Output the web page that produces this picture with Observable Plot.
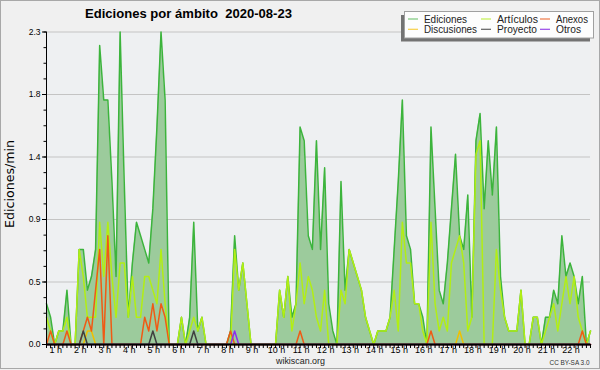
<!DOCTYPE html>
<html><head><meta charset="utf-8">
<script src="https://cdn.jsdelivr.net/npm/d3@7"></script>
<script src="https://cdn.jsdelivr.net/npm/@observablehq/plot@0.6"></script>
<style>
body{margin:0;background:#f0f0f0;}
#chart{position:relative;width:600px;height:370px;}
</style></head><body><div id="chart"></div>
<script>
// edits per minute, one value per 10-minute slot, first slot 00:40
const ediciones = [
0.3,0.2,0,0.1,0.1,0.4,0,0,0.7,0.7,
0.4,0.5,0.7,2.2,1.8,1.8,1.2,0.5,2.3,1.2,
0.2,0.6,0.9,0.8,0.7,0.6,1.0,1.6,2.3,1.8,
0,0,0,0.2,0,0.2,0.9,0.1,0.2,0,
0,0,0,0,0,0.1,0.8,0.4,0.6,0.3,
0,0,0,0,0,0,0,0.4,0.2,0.5,
0.2,0.3,1.6,1.5,0.8,0.7,1.5,0.7,1.3,0.3,
0.1,0,1.2,0.4,0.7,0.6,0.5,0.4,0.2,0.1,
0,0.1,0.1,0.1,0.2,0.7,1.2,1.8,0.8,0.7,
0.3,0.3,0.2,0,1.6,1.0,0.4,0.3,0.6,1.0,
1.4,0.8,0.7,1.1,0.2,1.5,1.7,1.0,1.5,1.1,
1.6,0.5,0.2,0.1,0.1,0.1,0.4,0,0,0.2,
0.2,0,0.2,0.2,0.4,0.3,0.8,0.5,0.6,0.5,
0.3,0.5,0,0.1];
const articulos = [
0.2,0.1,0,0.1,0.1,0.2,0,0,0.7,0.5,
0.2,0.2,0.2,0.9,0.5,0.9,0.5,0.2,0.6,0.6,
0.2,0.5,0.2,0.2,0.5,0.5,0.4,0.3,0.7,0.3,
0,0,0,0.2,0,0.1,0.2,0.1,0.2,0,
0,0,0,0,0,0,0.7,0.4,0.6,0.3,
0,0,0,0,0,0,0,0.4,0.2,0.5,
0.1,0.3,0.6,0.3,0.5,0.4,0.2,0.1,0.4,0,
0,0,0.4,0.3,0.7,0.6,0.5,0.4,0.2,0.1,
0,0.1,0.1,0.1,0.2,0.4,0.1,0.9,0.6,0.6,
0.3,0.3,0.1,0,0.9,0.3,0.1,0.2,0.1,0.6,
0.7,0.8,0.6,0.1,0.2,1.4,1.5,0,0,0,
0.7,0.4,0.2,0.1,0.1,0.1,0.4,0,0,0.2,
0.2,0,0.1,0.2,0.3,0.1,0.3,0.5,0.3,0.5,
0.2,0.1,0,0.1];
const anexos = [
0,0.1,0,0,0,0.1,0,0,0,0.1,
0.2,0.1,0.4,0.7,0,0.8,0,0,0,0,
0,0,0,0,0.2,0.1,0.3,0.1,0.3,0.2,
0,0,0,0,0,0,0,0,0,0,
0,0,0,0,0,0.1,0,0,0,0,
0,0,0,0,0,0,0,0,0,0,
0,0,0.1,0,0,0,0,0,0,0,
0,0,0,0,0,0,0,0,0,0,
0,0,0,0,0,0,0,0,0,0,
0,0,0,0,0.1,0,0,0,0,0,
0,0,0,0,0,0,0,0,0,0,
0,0,0,0,0,0,0,0,0,0,
0,0,0,0,0,0,0,0,0,0,
0,0.1,0,0];
const discusiones = [
0,0,0,0,0,0,0,0,0,0,
0.1,0.1,0,0,0,0,0,0,0,0,
0,0,0,0,0,0,0,0,0,0,
0,0,0,0,0,0,0,0,0,0,
0,0,0,0,0,0,0,0,0,0,
0,0,0,0,0,0,0,0,0,0,
0,0,0,0,0,0,0,0,0,0,
0,0,0,0,0,0,0,0,0,0,
0,0,0,0,0,0,0,0,0,0,
0,0,0,0,0,0,0,0,0,0,
0,0.1,0,0,0,0,0,0,0,0,
0,0,0,0,0,0,0,0,0,0,
0,0,0,0,0,0,0,0,0,0,
0,0,0,0];
const proyecto = [
0,0,0,0,0,0,0,0,0,0.1,
0,0,0,0,0,0,0,0,0,0,
0,0,0,0,0,0,0.1,0,0,0,
0,0,0,0,0,0,0.1,0,0,0,
0,0,0,0,0,0,0,0,0,0,
0,0,0,0,0,0,0,0,0,0,
0,0,0,0,0,0,0,0,0,0,
0,0,0,0,0,0,0,0,0,0,
0,0,0,0,0,0,0,0,0,0,
0,0,0,0,0,0,0,0,0,0,
0,0,0,0,0,0,0,0,0,0,
0,0,0,0,0,0,0,0,0,0,
0,0,0,0,0,0,0,0,0,0,
0,0,0,0];
const otros = [
0,0,0,0,0,0,0,0,0,0,
0,0,0,0,0,0,0,0,0,0,
0,0,0,0,0,0,0,0,0,0,
0,0,0,0,0,0,0,0,0,0,
0,0,0,0,0,0,0.1,0,0,0,
0,0,0,0,0,0,0,0,0,0,
0,0,0,0,0,0,0,0,0,0,
0,0,0,0,0,0,0,0,0,0,
0,0,0,0,0,0,0,0,0,0,
0,0,0,0,0,0,0,0,0,0,
0,0,0,0,0,0,0,0,0,0,
0,0,0,0,0,0,0,0,0,0,
0,0,0,0,0,0,0,0,0,0,
0,0,0,0];

const firstSlotMinute = 40, slotMinutes = 10;
const hourTicks = [1,2,3,4,5,6,7,8,9,10,11,12,13,14,15,16,17,18,19,20,21,22];
const yTicks = [0, 0.46, 0.92, 1.38, 1.84, 2.3];
const yMax = 2.3;
const title = "Ediciones por ámbito  2020-08-23";
const yLabel = "Ediciones/min";

const series = [
  {name:"Ediciones",   values: ediciones,   color:"#3cb43c", legend:"#7cc87c"},
  {name:"Artículos",   values: articulos,   color:"#b2ee14", legend:"#c4f050"},
  {name:"Discusiones", values: discusiones, color:"#f0c000", legend:"#f8d048"},
  {name:"Anexos",      values: anexos,      color:"#f05a14", legend:"#f07a48"},
  {name:"Proyecto",    values: proyecto,    color:"#404040", legend:"#606060"},
  {name:"Otros",       values: otros,       color:"#8a30f0", legend:"#9848e8"}
];

const times = ediciones.map((_, i) => (firstSlotMinute + i * slotMinutes) / 60);
const rows = times.map((t, i) => {
  const r = {t};
  series.forEach(s => r[s.name] = s.values[i]);
  return r;
});
const yMinor = d3.range(0, 21).map(k => k * yMax / 20);

const lineMarks = ["Ediciones","Artículos","Discusiones","Anexos","Proyecto","Otros"].map(n => {
  const s = series.find(d => d.name === n);
  return Plot.lineY(rows, {x: "t", y: n, stroke: s.color, strokeWidth: 1.5});
});

const plot = Plot.plot({
  width: 600, height: 370,
  marginLeft: 46, marginRight: 10, marginTop: 31.5, marginBottom: 26,
  style: {background: "transparent", fontFamily: "Liberation Sans, Arial, sans-serif", fontSize: "9px", color: "#000", overflow: "visible"},
  x: {domain: [times[0], times[times.length - 1]]},
  y: {domain: [0, yMax]},
  marks: [
    Plot.frame({fill: "#eef0f2", stroke: "none"}),
    Plot.ruleY(yTicks.slice(1), {stroke: "#c4c4c4", strokeWidth: 1}),
    Plot.areaY(rows, {x: "t", y: "Ediciones", fill: "#9ccb9c"}),
    ...lineMarks,
    Plot.axisY({ticks: yMinor, tickSize: 2.5, tickFormat: () => "", label: null}),
    Plot.axisY({ticks: yTicks, tickSize: 4, tickPadding: 2, tickFormat: d3.format(".1f"), fontSize: 8.5, label: null}),
    Plot.axisX({ticks: times, tickSize: 4, tickFormat: () => "", label: null}),
    Plot.axisX({ticks: hourTicks, tickSize: 0, tickPadding: 2.5, dx: 1, tickFormat: d => d + " h", label: null}),
    Plot.ruleX([times[0]], {stroke: "#000"}),
    Plot.ruleY([0], {stroke: "#000", strokeWidth: 2})
  ]
});

document.getElementById("chart").appendChild(plot);

// decorations: frame, title, y label, legend, footer
const svg = d3.select(plot);
const g = svg.append("g").attr("font-family", "Liberation Sans, Arial, sans-serif").attr("text-anchor", "start");
g.append("rect").attr("x", 0.5).attr("y", 0.5).attr("width", 599).attr("height", 368)
  .attr("fill", "none").attr("stroke", "#a8a8a8");
g.append("text").attr("x", 85).attr("y", 18).attr("font-size", 13).attr("font-weight", "bold")
  .attr("text-anchor", "start").style("white-space", "pre")
  .attr("textLength", 207).attr("lengthAdjust", "spacingAndGlyphs")
  .attr("fill", "#000").text(title);
g.append("text").attr("transform", "translate(13.5,184) rotate(-90)").attr("text-anchor", "middle")
  .attr("font-family", "DejaVu Sans, sans-serif").attr("font-size", 11.5)
  .attr("textLength", 88).attr("lengthAdjust", "spacingAndGlyphs").attr("fill", "#000").text(yLabel);

// legend
g.append("rect").attr("x", 401).attr("y", 15).attr("width", 189).attr("height", 26.5).attr("fill", "#737373");
g.append("rect").attr("x", 404.5).attr("y", 11.5).attr("width", 189).attr("height", 26.5)
  .attr("fill", "#fdfdfd").attr("stroke", "#a0a0a0");
const legendLayout = {
  "Ediciones":   {x: 408, y: 19,   w: 43},
  "Artículos":   {x: 481, y: 19,   w: 41},
  "Anexos":      {x: 540, y: 19,   w: 32},
  "Discusiones": {x: 408, y: 29.3, w: 53},
  "Proyecto":    {x: 481, y: 29.3, w: 40},
  "Otros":       {x: 540, y: 29.3, w: 25}
};
series.forEach(s => {
  const p = legendLayout[s.name];
  g.append("line").attr("x1", p.x).attr("x2", p.x + 10).attr("y1", p.y).attr("y2", p.y)
    .attr("stroke", s.legend).attr("stroke-width", 1.2);
  g.append("text").attr("x", p.x + 16).attr("y", p.y + 3.5).attr("font-size", 10)
    .attr("text-anchor", "start")
    .attr("textLength", p.w).attr("lengthAdjust", "spacingAndGlyphs").attr("fill", "#222").text(s.name);
});

g.append("text").attr("x", 276).attr("y", 363.5).attr("font-size", 9).attr("text-anchor", "start")
  .attr("textLength", 49).attr("lengthAdjust", "spacingAndGlyphs").attr("fill", "#222").text("wikiscan.org");
g.append("text").attr("x", 549.5).attr("y", 365).attr("font-size", 6.5).attr("text-anchor", "start")
  .attr("textLength", 40).attr("lengthAdjust", "spacingAndGlyphs").attr("fill", "#333").text("CC BY-SA 3.0");
</script></body></html>
